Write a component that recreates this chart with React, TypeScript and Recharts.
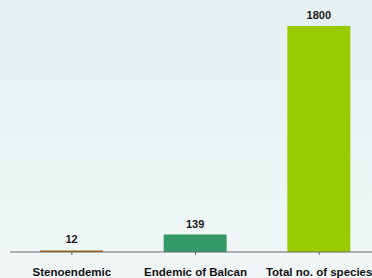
import { BarChart, Bar, XAxis, YAxis, Cell, LabelList } from 'recharts';

const categories = ['Stenoendemic', 'Endemic of Balcan', 'Total no. of species'];
const counts = [12, 139, 1800];
const COLORS = ['#b35c00', '#339966', '#99cc00'];

const data = categories.map((name, i) => ({ name, value: counts[i] }));

const font = { fontFamily: '"Liberation Sans", Arial, sans-serif', fontWeight: 700, fontSize: 11, fill: '#1a1a1a' };
const tickFont = { ...font, fontSize: 11.5, fill: '#111' };

const App = () => (
  <div
    style={{
      position: 'absolute',
      left: 0,
      top: 0,
      width: 372,
      height: 278,
      overflow: 'hidden',
      background: 'linear-gradient(#e4eff0, #f1f7f7)',
    }}
  >
    <BarChart width={390} height={278} data={data} margin={{ top: 1, right: 9, left: 10, bottom: 0 }}>
      <YAxis hide domain={[0, 2000]} />
      <XAxis
        dataKey="name"
        height={26}
        tickSize={3}
        tickMargin={13}
        interval={0}
        stroke="#666"
        tick={tickFont}
      />
      <Bar dataKey="value" barSize={63} isAnimationActive={false}>
        {data.map((_, i) => (
          <Cell key={`cell-${i}`} fill={COLORS[i]} />
        ))}
        <LabelList dataKey="value" position="top" offset={7} style={font} />
      </Bar>
    </BarChart>
  </div>
);

export default App;
